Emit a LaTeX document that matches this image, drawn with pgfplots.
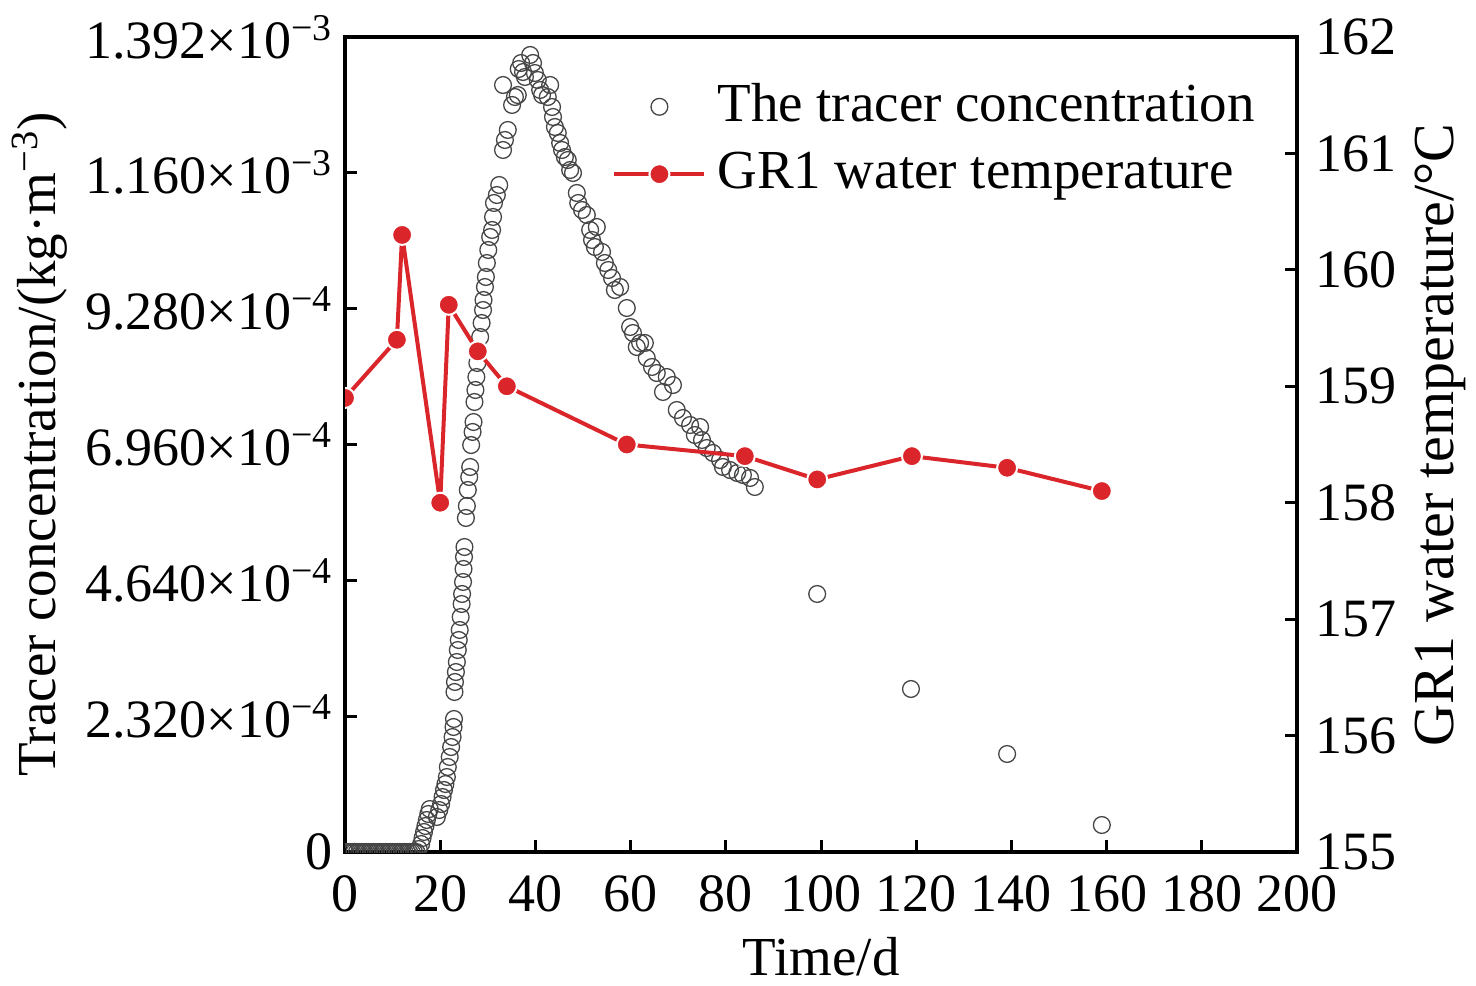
\documentclass[border=0pt]{standalone}
\usepackage{pgfplots}
\pgfplotsset{compat=1.18}
\usepackage{fontspec}
\setmainfont{Liberation Serif}
\definecolor{myred}{RGB}{218,37,42}
\definecolor{circ}{RGB}{70,70,70}
\newcommand{\bigf}{\fontsize{27bp}{33bp}\selectfont}
\newcommand{\labf}{\fontsize{27.5bp}{33bp}\selectfont}
\pgfplotsset{wide legend/.style={legend image code/.code={\draw[mark repeat=2,mark phase=2,##1] plot coordinates {(0bp,0bp) (22.5bp,0bp) (45bp,0bp)}; \path (0bp,0bp) (48.5bp,0bp);}}}
\begin{document}
\bigf
\begin{tikzpicture}
\useasboundingbox (-172.5bp,-67bp) rectangle (565.5bp,426bp);
\begin{axis}[
  scale only axis, width=476bp, height=407.5bp,
  xmin=0, xmax=200, ymin=0, ymax=1.392e-3,
  xtick={0,20,...,200}, xtick pos=left, ytick pos=left,
  ytick={0,2.32e-4,4.64e-4,6.96e-4,9.28e-4,1.16e-3,1.392e-3},
  yticklabels={0,2.320×10\textsuperscript{−4},4.640×10\textsuperscript{−4},6.960×10\textsuperscript{−4},9.280×10\textsuperscript{−4},1.160×10\textsuperscript{−3},1.392×10\textsuperscript{−3}},
  scaled y ticks=false,
  /pgf/number format/assume math mode=true,
  tick align=inside, major tick length=6bp,
  every tick/.style={black, line width=1.5bp},
  axis line style={line width=1.7bp},
  tick label style={font=\bigf},
  xticklabel style={yshift=-2.5bp},
  yticklabel style={xshift=3bp},
  label style={font=\labf},
  xlabel={Time/d},
  ylabel={Tracer concentration/(kg·m\textsuperscript{−3})},
  xlabel style={at={(axis description cs:0.5,-0.1285)}, anchor=center},
  ylabel style={at={(axis description cs:-0.3204,0.500)}, anchor=center},
  clip marker paths=true,
]
\addplot[only marks, mark=o, mark size=4.2bp, mark options={draw=circ, fill=white, line width=0.65bp}] table {
x y
0 0
0.5 0
1 0
1.5 0
2 0
2.5 0
3 0
3.5 0
4 0
4.5 0
5 0
5.5 0
6 0
6.5 0
7 0
7.5 0
8 0
8.5 0
9 0
9.5 0
10 0
10.5 0
11 0
11.5 0
12 0
12.5 0
13 0
13.5 0
14 0
14.5 0
15.0 0
15.5 5.1e-6
16.0 1.37e-5
16.3 2.39e-5
16.6 3.42e-5
16.9 4.44e-5
17.2 5.47e-5
17.5 6.49e-5
17.8 7.34e-5
19.3 5.98e-5
19.8 7.17e-5
20.2 8.20e-5
20.5 9.39e-5
20.8 1.059e-4
21.1 1.161e-4
21.4 1.281e-4
21.6 1.452e-4
22.0 1.623e-4
22.3 1.793e-4
22.6 1.964e-4
22.8 2.135e-4
22.9 2.272e-4
23.0 2.733e-4
23.1 2.904e-4
23.3 3.074e-4
23.5 3.245e-4
23.7 3.450e-4
23.9 3.621e-4
24.1 3.792e-4
24.3 4.014e-4
24.5 4.236e-4
24.6 4.407e-4
24.8 4.612e-4
24.9 4.834e-4
25.0 5.039e-4
25.1 5.209e-4
25.4 5.705e-4
25.6 5.910e-4
25.8 6.183e-4
26.1 6.405e-4
26.3 6.576e-4
26.5 6.951e-4
26.8 7.174e-4
27.0 7.344e-4
27.2 7.686e-4
27.4 7.891e-4
27.6 8.113e-4
27.8 8.352e-4
28.0 8.574e-4
28.4 8.796e-4
28.7 9.035e-4
29.0 9.257e-4
29.1 9.428e-4
29.4 9.650e-4
29.6 9.821e-4
29.8 1.0060e-3
30.1 1.0282e-3
30.5 1.0504e-3
30.9 1.0624e-3
31.1 1.0846e-3
31.3 1.1085e-3
31.9 1.1221e-3
32.4 1.1392e-3
33.2 1.1990e-3
33.6 1.2161e-3
34.2 1.2332e-3
35.1 1.2759e-3
35.7 1.2895e-3
36.3 1.2929e-3
33.2 1.3100e-3
36.5 1.3373e-3
37.0 1.3476e-3
37.4 1.3322e-3
37.8 1.3237e-3
38.9 1.3613e-3
39.5 1.3476e-3
39.9 1.3305e-3
40.5 1.3186e-3
41.0 1.3015e-3
41.4 1.2929e-3
42.6 1.2895e-3
43.1 1.3100e-3
43.5 1.2724e-3
43.7 1.2554e-3
44.1 1.2383e-3
44.7 1.2280e-3
45.2 1.2110e-3
45.6 1.1990e-3
46.2 1.1870e-3
46.8 1.1819e-3
47.3 1.1648e-3
47.9 1.1597e-3
48.7 1.1256e-3
49.0 1.1085e-3
49.8 1.0965e-3
50.8 1.0880e-3
51.5 1.0624e-3
51.9 1.0453e-3
52.5 1.0333e-3
52.9 1.0675e-3
54.0 1.0248e-3
54.6 1.0060e-3
55.3 0.9940e-3
56.1 0.9804e-3
56.7 0.9599e-3
57.8 0.9650e-3
59.2 0.9291e-3
59.9 0.8967e-3
60.5 0.8864e-3
61.3 0.8625e-3
62.0 0.8694e-3
63.0 0.8694e-3
63.4 0.8437e-3
64.5 0.8284e-3
65.5 0.8181e-3
66.8 0.7857e-3
67.6 0.8113e-3
68.9 0.7976e-3
69.7 0.7549e-3
71.0 0.7413e-3
72.5 0.7293e-3
73.5 0.7122e-3
74.6 0.7259e-3
75.0 0.7037e-3
76.0 0.6900e-3
77.3 0.6815e-3
78.8 0.6695e-3
79.4 0.6576e-3
80.9 0.6524e-3
82.4 0.6473e-3
83.6 0.6439e-3
85.1 0.6388e-3
86.1 0.6234e-3
99.2 0.4407e-3
118.9 0.2784e-3
139.1 0.1674e-3
159.0 0.0461e-3
};
\end{axis}
\begin{axis}[
  scale only axis, width=476bp, height=407.5bp,
  xmin=0, xmax=200, ymin=155, ymax=162,
  hide x axis, axis y line*=right, ytick pos=right,
  ytick={155,156,...,162},
  /pgf/number format/assume math mode=true,
  tick align=inside, major tick length=6bp,
  every tick/.style={black, line width=1.5bp},
  axis line style={line width=1.7bp},
  tick label style={font=\bigf},
  label style={font=\fontsize{29bp}{34bp}\selectfont},
  ylabel={GR1 water temperature/°C},
  ylabel style={at={(axis description cs:1.151,0.5117)}, anchor=center},
  clip marker paths=true,
  legend style={at={(axis description cs:0.2742,0.953)}, anchor=north west, draw=none, fill=none, font=\labf, row sep=7bp},
  legend cell align=left,
]
\addlegendimage{only marks, mark=o, mark size=4.2bp, mark options={draw=circ, fill=white, line width=0.65bp}, wide legend}
\addlegendentry{The tracer concentration}
\addplot[myred, line width=2bp, mark=*, mark size=5bp, mark options={fill=myred, draw=white, line width=1bp}, wide legend] table {
x y
0 158.9
10.9 159.4
12.0 160.3
20.0 158.0
21.8 159.7
27.9 159.3
34.0 159.0
59.2 158.5
84.0 158.4
99.2 158.2
119.1 158.4
139.1 158.3
159.0 158.1
};
\addlegendentry{GR1 water temperature}
\end{axis}
\end{tikzpicture}
\end{document}
